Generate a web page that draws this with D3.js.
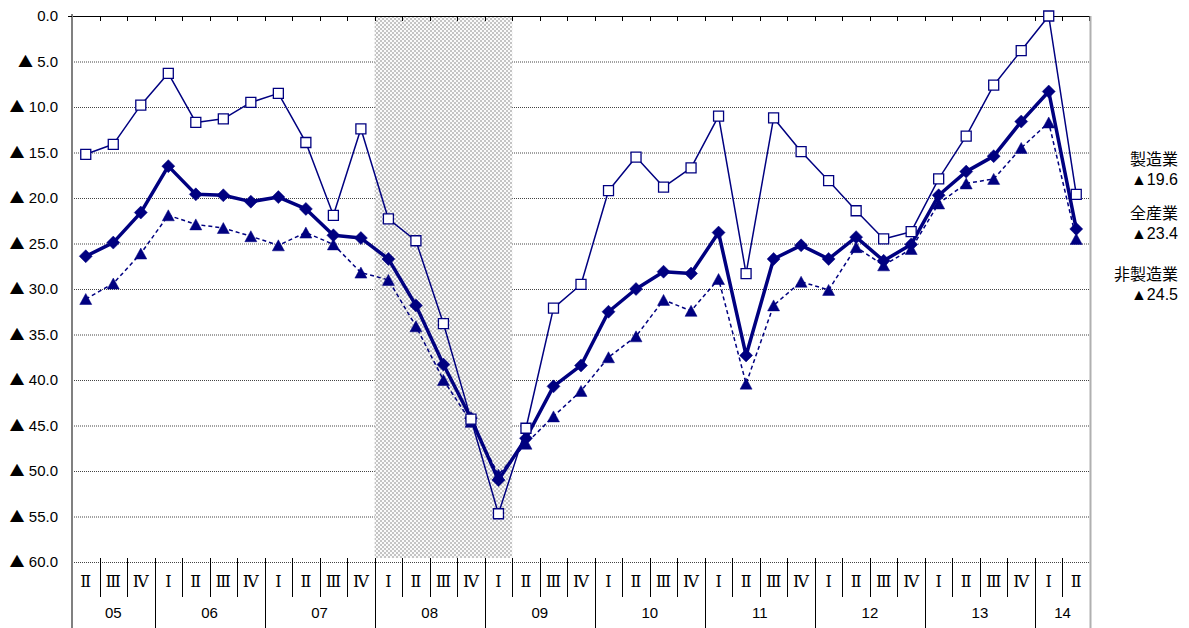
<!DOCTYPE html>
<html>
<head>
<meta charset="utf-8">
<script src="https://cdn.jsdelivr.net/npm/d3@7"></script>
<style>
  html, body { margin: 0; padding: 0; background: #fff; }
  svg { display: block; }
</style>
</head>
<body>
<svg id="chart" width="1189" height="628"></svg>
<script>
// Business survey index (BSI), quarterly, 2005 Q2 – 2014 Q2. Negative = ▲.
const years = ["05", "06", "07", "08", "09", "10", "11", "12", "13", "14"];
const quartersByYear = [
  ["Ⅱ", "Ⅲ", "Ⅳ"],
  ["Ⅰ", "Ⅱ", "Ⅲ", "Ⅳ"],
  ["Ⅰ", "Ⅱ", "Ⅲ", "Ⅳ"],
  ["Ⅰ", "Ⅱ", "Ⅲ", "Ⅳ"],
  ["Ⅰ", "Ⅱ", "Ⅲ", "Ⅳ"],
  ["Ⅰ", "Ⅱ", "Ⅲ", "Ⅳ"],
  ["Ⅰ", "Ⅱ", "Ⅲ", "Ⅳ"],
  ["Ⅰ", "Ⅱ", "Ⅲ", "Ⅳ"],
  ["Ⅰ", "Ⅱ", "Ⅲ", "Ⅳ"],
  ["Ⅰ", "Ⅱ"]
];
const yTicks = [0, -5, -10, -15, -20, -25, -30, -35, -40, -45, -50, -55, -60];
// shaded period (first and last quarter)
const shadedFrom = "08-Ⅰ";
const shadedTo = "09-Ⅰ";

const seriesNames = ["製造業", "全産業", "非製造業"];
const manufacturing = [-15.2, -14.1, -9.8, -6.3, -11.7, -11.3, -9.5, -8.5, -13.9, -21.9, -12.4,
  -22.3, -24.7, -33.8, -44.3, -54.7, -45.3, -32.1, -29.5, -19.2, -15.5, -18.8, -16.7,
  -11.0, -28.3, -11.2, -14.9, -18.1, -21.4, -24.5, -23.7, -17.9, -13.2, -7.6, -3.8, 0.0, -19.6];
const allIndustries = [-26.4, -24.9, -21.6, -16.5, -19.6, -19.7, -20.4, -19.9, -21.2, -24.1, -24.4,
  -26.7, -31.8, -38.3, -44.2, -51.0, -46.4, -40.7, -38.4, -32.5, -30.0, -28.1, -28.3,
  -23.8, -37.3, -26.7, -25.2, -26.7, -24.3, -26.9, -25.1, -19.7, -17.1, -15.4, -11.6, -8.3, -23.4];
const nonManufacturing = [-31.1, -29.4, -26.1, -21.9, -22.9, -23.3, -24.2, -25.2, -23.8, -25.1, -28.2,
  -29.0, -34.1, -40.0, -44.6, -50.4, -47.0, -44.0, -41.2, -37.5, -35.2, -31.2, -32.4,
  -28.9, -40.4, -31.8, -29.2, -30.1, -25.4, -27.4, -25.6, -20.6, -18.4, -17.9, -14.5, -11.7, -24.5];

(function () {
  // category keys "YY-Q"
  const categories = [];
  const yearSpans = [];
  years.forEach((yr, i) => {
    const keys = quartersByYear[i].map(q => yr + "-" + q);
    yearSpans.push({ year: yr, first: keys[0], last: keys[keys.length - 1] });
    categories.push(...keys);
  });

  const svg = d3.select("#chart");
  const plotLeft = 72, plotRight = 1090, plotTop = 16, plotBottom = 562, tableBottom = 628;
  const navy = "#000080";

  const x = d3.scaleBand().domain(categories).range([plotLeft, plotRight]).padding(0);
  const y = d3.scaleLinear().domain([0, -60]).range([plotTop, plotBottom]);
  const cx = k => x(k) + x.bandwidth() / 2;

  // checker pattern for the shaded period
  const defs = svg.append("defs");
  const pat = defs.append("pattern").attr("id", "hatch").attr("patternUnits", "userSpaceOnUse")
    .attr("width", 4).attr("height", 4);
  pat.append("rect").attr("width", 4).attr("height", 4).attr("fill", "#fafafa");
  pat.append("rect").attr("width", 2).attr("height", 2).attr("fill", "#c4c4c4");
  pat.append("rect").attr("x", 2).attr("y", 2).attr("width", 2).attr("height", 2).attr("fill", "#c4c4c4");

  // horizontal gridlines
  svg.append("g").selectAll("line").data(yTicks.filter(v => v !== 0)).join("line")
    .attr("x1", plotLeft).attr("x2", plotRight)
    .attr("y1", d => y(d) + 0.5).attr("y2", d => y(d) + 0.5)
    .attr("stroke", "#444").attr("stroke-width", 1).attr("stroke-dasharray", "1,1");

  // shaded period
  svg.append("rect")
    .attr("x", x(shadedFrom)).attr("y", plotTop)
    .attr("width", x(shadedTo) + x.bandwidth() - x(shadedFrom))
    .attr("height", plotBottom - 4 - plotTop)
    .attr("fill", "url(#hatch)");

  // bottom gridline drawn over shading
  svg.append("line").attr("x1", plotLeft).attr("x2", plotRight)
    .attr("y1", y(-60) + 0.5).attr("y2", y(-60) + 0.5)
    .attr("stroke", "#444").attr("stroke-dasharray", "1,1");

  // top axis with category ticks
  svg.append("line").attr("x1", plotLeft).attr("x2", plotRight)
    .attr("y1", plotTop + 0.5).attr("y2", plotTop + 0.5).attr("stroke", "#000");
  svg.append("g").selectAll("line").data(categories.slice(1)).join("line")
    .attr("x1", d => Math.round(x(d)) + 0.5).attr("x2", d => Math.round(x(d)) + 0.5)
    .attr("y1", plotTop).attr("y2", plotTop + 5).attr("stroke", "#000");
  svg.append("line").attr("x1", plotRight - 0.5).attr("x2", plotRight - 0.5)
    .attr("y1", plotTop).attr("y2", plotTop + 5).attr("stroke", "#000");

  // left axis and right frame
  svg.append("line").attr("x1", plotLeft).attr("x2", plotLeft).attr("y1", plotTop - 2).attr("y2", tableBottom)
    .attr("stroke", "#808080").attr("stroke-width", 2);
  svg.append("line").attr("x1", plotRight + 0.5).attr("x2", plotRight + 0.5).attr("y1", plotTop).attr("y2", tableBottom)
    .attr("stroke", "#b0b0b0").attr("stroke-width", 2);
  svg.append("line").attr("x1", plotLeft - 4).attr("x2", plotLeft).attr("y1", plotTop + 0.5).attr("y2", plotTop + 0.5)
    .attr("stroke", "#000");

  // y labels
  const yl = svg.append("g").selectAll("text").data(yTicks).join("text")
    .attr("x", 58).attr("y", d => y(d)).attr("dy", "0.36em")
    .attr("text-anchor", "end")
    .attr("font-family", "Liberation Sans, Arial, sans-serif").attr("font-size", 15)
    .attr("fill", "#000");
  yl.filter(d => d !== 0).append("tspan")
    .attr("font-family", "Noto Sans CJK JP, sans-serif").attr("font-size", 15).text("▲");
  yl.append("tspan").text(d => d === 0 ? "0.0" : " " + Math.abs(d).toFixed(1));

  // category table: quarter dividers and year dividers
  const yearStarts = new Set(yearSpans.map(s => s.first));
  svg.append("g").selectAll("line").data(categories.slice(1)).join("line")
    .attr("x1", d => Math.round(x(d)) + 0.5).attr("x2", d => Math.round(x(d)) + 0.5)
    .attr("y1", plotBottom - 4)
    .attr("y2", d => yearStarts.has(d) ? tableBottom : 597)
    .attr("stroke", "#000");

  svg.append("g").selectAll("text").data(categories).join("text")
    .attr("x", d => cx(d)).attr("y", 581).attr("dy", "0.36em")
    .attr("text-anchor", "middle")
    .attr("font-family", "DejaVu Serif, Liberation Serif, serif").attr("font-size", 16)
    .attr("fill", "#000")
    .text(d => d.split("-")[1]);

  svg.append("g").selectAll("text").data(yearSpans).join("text")
    .attr("x", d => (x(d.first) + x(d.last) + x.bandwidth()) / 2).attr("y", 613).attr("dy", "0.36em")
    .attr("text-anchor", "middle")
    .attr("font-family", "Liberation Sans, Arial, sans-serif").attr("font-size", 15)
    .attr("fill", "#000")
    .text(d => d.year);

  // series
  const line = d3.line().x((d, i) => cx(categories[i])).y(d => y(d));

  function markerPath(shape, s) {
    const p = d3.path();
    if (shape === "square") {
      p.rect(-s / 2, -s / 2, s, s);
    } else if (shape === "diamond") {
      p.moveTo(0, -s / 2); p.lineTo(s / 2, 0); p.lineTo(0, s / 2); p.lineTo(-s / 2, 0); p.closePath();
    } else {
      p.moveTo(0, -s / 2); p.lineTo(s / 2 + 0.5, s / 2); p.lineTo(-s / 2 - 0.5, s / 2); p.closePath();
    }
    return p.toString();
  }

  const series = [
    { name: seriesNames[2], values: nonManufacturing, width: 1.5, dash: "4,3", shape: "triangle", size: 11, fill: navy },
    { name: seriesNames[1], values: allIndustries, width: 3.5, dash: null, shape: "diamond", size: 13, fill: navy },
    { name: seriesNames[0], values: manufacturing, width: 1.5, dash: null, shape: "square", size: 10, fill: "#fff" }
  ];

  series.forEach(s => {
    const g = svg.append("g");
    g.append("path").datum(s.values)
      .attr("d", line).attr("fill", "none").attr("stroke", navy)
      .attr("stroke-width", s.width).attr("stroke-linejoin", "round")
      .attr("stroke-dasharray", s.dash);
    g.selectAll("path.m").data(s.values).join("path").attr("class", "m")
      .attr("transform", (d, i) => `translate(${cx(categories[i])},${y(d)})`)
      .attr("d", markerPath(s.shape, s.size))
      .attr("fill", s.fill).attr("stroke", navy).attr("stroke-width", s.shape === "square" ? 1.3 : 0.5);
  });

  // end-value labels at the right
  const endLabels = [
    { name: seriesNames[0], value: manufacturing[manufacturing.length - 1], ly: 159 },
    { name: seriesNames[1], value: allIndustries[allIndustries.length - 1], ly: 213 },
    { name: seriesNames[2], value: nonManufacturing[nonManufacturing.length - 1], ly: 274 }
  ];
  const lg = svg.append("g").attr("font-family", "Noto Sans CJK JP, sans-serif").attr("font-size", 16)
    .attr("text-anchor", "end").attr("fill", "#000");
  endLabels.forEach(d => {
    lg.append("text").attr("x", 1178).attr("y", d.ly).attr("dy", "0.36em").text(d.name);
    lg.append("text").attr("x", 1178).attr("y", d.ly + 20).attr("dy", "0.36em")
      .attr("font-family", "Liberation Sans Narrow, Liberation Sans, sans-serif")
      .text("▲" + Math.abs(d.value).toFixed(1));
  });
})();
</script>
</body>
</html>
